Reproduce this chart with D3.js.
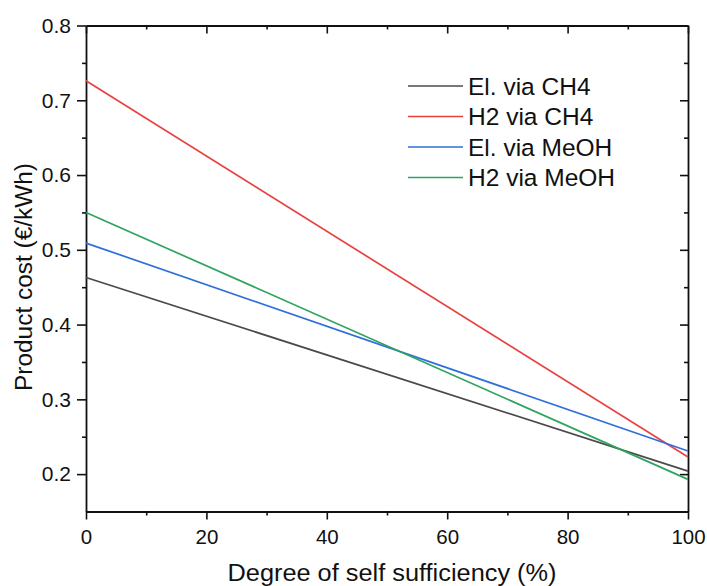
<!DOCTYPE html>
<html>
<head>
<meta charset="utf-8">
<script src="https://cdn.jsdelivr.net/npm/d3@7"></script>
<style>
  html, body { margin: 0; padding: 0; background: #fff; }
  svg text { font-family: "Liberation Sans", Arial, sans-serif; fill: #111; }
</style>
</head>
<body>
<svg id="chart" width="707" height="586"></svg>
<script>
// Self-sufficiency degree (%) at the two ends of each cost line
const selfSufficiency = [0, 100];
const seriesNames = ["El. via CH4", "H2 via CH4", "El. via MeOH", "H2 via MeOH"];
const elViaCH4 = [0.463, 0.204];
const h2ViaCH4 = [0.726, 0.223];
const elViaMeOH = [0.509, 0.231];
const h2ViaMeOH = [0.550, 0.193];
const seriesColors = ["#4a4a4a", "#e8423f", "#2f6fdb", "#2fa35f"];
const xTicks = [0, 20, 40, 60, 80, 100];
const yTicks = [0.2, 0.3, 0.4, 0.5, 0.6, 0.7, 0.8];

const series = [elViaCH4, h2ViaCH4, elViaMeOH, h2ViaMeOH].map((vals, i) => ({
  name: seriesNames[i],
  color: seriesColors[i],
  points: vals.map((v, j) => ({ x: selfSufficiency[j], y: v }))
}));

const svg = d3.select("#chart");
const m = { left: 86, right: 688, top: 25.5, bottom: 511.5 };

const x = d3.scaleLinear().domain([0, 100]).range([m.left, m.right]);
const y = d3.scaleLinear().domain([0.15, 0.8]).range([m.bottom, m.top]);

const xMinor = d3.range(10, 100, 20);
const yMinor = d3.range(0.25, 0.8, 0.1).map(v => +v.toFixed(2));

function styleAxis(g) {
  g.selectAll("path").attr("stroke", "#111").attr("stroke-width", 1.8);
  g.selectAll("line").attr("stroke", "#111").attr("stroke-width", 1.6);
}

// Bottom axis: outward major ticks with labels, minor ticks between
svg.append("g").attr("transform", `translate(0,${m.bottom})`)
  .call(d3.axisBottom(x).tickValues(xTicks).tickSize(8).tickSizeOuter(0).tickPadding(10).tickFormat(d3.format("d")))
  .call(styleAxis)
  .call(g => g.selectAll("text").attr("font-size", 20.5));
svg.append("g").attr("transform", `translate(0,${m.bottom})`)
  .call(d3.axisBottom(x).tickValues(xMinor).tickSize(4).tickSizeOuter(0).tickFormat(""))
  .call(styleAxis).call(g => g.select("path").remove());

// Left axis
svg.append("g").attr("transform", `translate(${m.left},0)`)
  .call(d3.axisLeft(y).tickValues(yTicks).tickSize(9).tickSizeOuter(0).tickPadding(6).tickFormat(d3.format(".1f")))
  .call(styleAxis)
  .call(g => g.selectAll("text").attr("font-size", 21));
svg.append("g").attr("transform", `translate(${m.left},0)`)
  .call(d3.axisLeft(y).tickValues(yMinor).tickSize(4).tickSizeOuter(0).tickFormat(""))
  .call(styleAxis).call(g => g.select("path").remove());

// Top axis: inward ticks, no labels
svg.append("g").attr("transform", `translate(0,${m.top})`)
  .call(d3.axisTop(x).tickValues(xTicks).tickSize(-8).tickSizeOuter(0).tickFormat(""))
  .call(styleAxis);
svg.append("g").attr("transform", `translate(0,${m.top})`)
  .call(d3.axisTop(x).tickValues(xMinor).tickSize(-4).tickSizeOuter(0).tickFormat(""))
  .call(styleAxis).call(g => g.select("path").remove());

// Right axis: inward ticks, no labels
svg.append("g").attr("transform", `translate(${m.right},0)`)
  .call(d3.axisRight(y).tickValues(yTicks).tickSize(-8).tickSizeOuter(0).tickFormat(""))
  .call(styleAxis);
svg.append("g").attr("transform", `translate(${m.right},0)`)
  .call(d3.axisRight(y).tickValues(yMinor).tickSize(-4).tickSizeOuter(0).tickFormat(""))
  .call(styleAxis).call(g => g.select("path").remove());

// Cost lines
const line = d3.line().x(d => x(d.x)).y(d => y(d.y));
svg.append("g").selectAll("path").data(series).join("path")
  .attr("d", d => line(d.points))
  .attr("fill", "none")
  .attr("stroke", d => d.color)
  .attr("stroke-width", 1.7);

// Legend
const legend = svg.append("g").attr("transform", "translate(408,86)");
const rows = legend.selectAll("g").data(series).join("g")
  .attr("transform", (d, i) => `translate(0,${i * 30.5})`);
rows.append("line").attr("x1", 0).attr("x2", 55).attr("y1", 0).attr("y2", 0)
  .attr("stroke", d => d.color).attr("stroke-width", 1.7);
rows.append("text").attr("x", 60).attr("dy", "0.35em")
  .attr("font-size", 24.5).text(d => d.name);

// Axis titles
svg.append("text")
  .attr("x", 392).attr("y", 581)
  .attr("text-anchor", "middle").attr("font-size", 23.5)
  .attr("textLength", 329).attr("lengthAdjust", "spacingAndGlyphs")
  .text("Degree of self sufficiency (%)");
svg.append("text")
  .attr("transform", `translate(32,277) rotate(-90)`)
  .attr("text-anchor", "middle").attr("font-size", 23.5)
  .attr("textLength", 228).attr("lengthAdjust", "spacingAndGlyphs")
  .text("Product cost (€/kWh)");
</script>
</body>
</html>
